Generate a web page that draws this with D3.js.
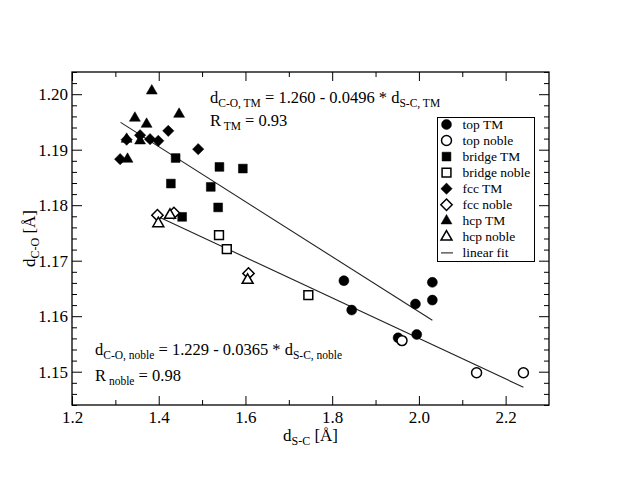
<!DOCTYPE html>
<html>
<head>
<meta charset="utf-8">
<script src="https://cdn.jsdelivr.net/npm/d3@7/dist/d3.min.js"></script>
<style>
html,body{margin:0;padding:0;background:#fff;}
svg text{font-family:"Liberation Serif","Times New Roman",serif;fill:#000;}
</style>
</head>
<body>
<svg id="chart" width="635" height="491"></svg>
<script>
// ---- data ----
const topTM = [[1.827,1.1664],[1.845,1.1611],[2.031,1.1661],[2.031,1.1629],[1.992,1.1622],[1.995,1.1567],[1.952,1.1561]];
const topNoble = [[1.961,1.1556],[2.133,1.1498],[2.241,1.1498]];
const bridgeTM = [[1.439,1.1885],[1.540,1.1869],[1.594,1.1866],[1.428,1.1839],[1.520,1.1833],[1.537,1.1796],[1.454,1.1779]];
const bridgeNoble = [[1.539,1.1746],[1.557,1.1721],[1.745,1.1638]];
const fccTM = [[1.422,1.1934],[1.380,1.1919],[1.399,1.1916],[1.357,1.1926],[1.326,1.1918],[1.311,1.1883],[1.491,1.1901]];
const fccNoble = [[1.397,1.1782],[1.435,1.1786],[1.607,1.1677]];
const hcpTM = [[1.384,1.2006],[1.345,1.1957],[1.372,1.1946],[1.447,1.1964],[1.326,1.1919],[1.357,1.1916],[1.328,1.1883]];
const hcpNoble = [[1.399,1.1767],[1.426,1.1782],[1.605,1.1665]];

// linear fits: [intercept, slope, xStart, xEnd]
const fitTM = [1.260, -0.0496, 1.312, 2.031];
const fitNoble = [1.229, -0.0365, 1.403, 2.241];

const xTickValues = [1.2, 1.4, 1.6, 1.8, 2.0, 2.2];
const xTickLabels = ["1.2", "1.4", "1.6", "1.8", "2.0", "2.2"];
const yTickValues = [1.15, 1.16, 1.17, 1.18, 1.19, 1.20];
const yTickLabels = ["1.15", "1.16", "1.17", "1.18", "1.19", "1.20"];
const legendLabels = ["top TM","top noble","bridge TM","bridge noble","fcc TM","fcc noble","hcp TM","hcp noble","linear fit"];

// ---- layout ----
const L = 72, R = 549, T = 72, B = 405;
const svg = d3.select("#chart");
const x = d3.scaleLinear().domain([1.2, 2.3]).range([L, R]);
const y = d3.scaleLinear().domain([1.144, 1.204]).range([B, T]);

const xMinor = d3.range(13, 23).map(v => v / 10).filter(v => !xTickValues.some(m => Math.abs(m - v) < 1e-9));
const yMinor = d3.range(572, 603).map(v => v / 500).filter(v => !yTickValues.some(m => Math.abs(m - v) < 1e-9));

function styleAxis(g) {
  g.select(".domain").remove();
  g.selectAll("line").attr("stroke", "#000").attr("stroke-width", 1);
  g.selectAll("text").style("font-size", "17px").attr("fill", "#000");
}

// bottom
svg.append("g").attr("transform", `translate(0,${B})`)
  .call(d3.axisBottom(x).tickValues(xTickValues).tickSize(-9).tickPadding(6)
    .tickFormat((d, i) => xTickLabels[i])).call(styleAxis);
svg.append("g").attr("transform", `translate(0,${B})`)
  .call(d3.axisBottom(x).tickValues(xMinor).tickSize(-5).tickFormat("")).call(styleAxis);
// top
svg.append("g").attr("transform", `translate(0,${T})`)
  .call(d3.axisTop(x).tickValues(xTickValues).tickSize(-9).tickFormat("")).call(styleAxis);
svg.append("g").attr("transform", `translate(0,${T})`)
  .call(d3.axisTop(x).tickValues(xMinor).tickSize(-5).tickFormat("")).call(styleAxis);
// left
svg.append("g").attr("transform", `translate(${L},0)`)
  .call(d3.axisLeft(y).tickValues(yTickValues).tickSize(-10).tickPadding(4)
    .tickFormat((d, i) => yTickLabels[i])).call(styleAxis);
svg.append("g").attr("transform", `translate(${L},0)`)
  .call(d3.axisLeft(y).tickValues(yMinor).tickSize(-5).tickFormat("")).call(styleAxis);
// right
svg.append("g").attr("transform", `translate(${R},0)`)
  .call(d3.axisRight(y).tickValues(yTickValues).tickSize(-10).tickFormat("")).call(styleAxis);
svg.append("g").attr("transform", `translate(${R},0)`)
  .call(d3.axisRight(y).tickValues(yMinor).tickSize(-5).tickFormat("")).call(styleAxis);

svg.selectAll("g").attr("font-family", null);

// frame
svg.append("rect").attr("x", L).attr("y", T).attr("width", R - L).attr("height", B - T)
  .attr("fill", "none").attr("stroke", "#000").attr("stroke-width", 1.3);

// fit lines
const line = d3.line().x(d => x(d[0])).y(d => y(d[1]));
[fitTM, fitNoble].forEach(f => {
  const pts = [[f[2], f[0] + f[1] * f[2]], [f[3], f[0] + f[1] * f[3]]];
  svg.append("path").attr("d", line(pts)).attr("fill", "none").attr("stroke", "#222").attr("stroke-width", 1.1);
});

// symbols
const diamondSym = { draw(ctx, size) { const r = Math.sqrt(size / 2); ctx.moveTo(0, -r); ctx.lineTo(r, 0); ctx.lineTo(0, r); ctx.lineTo(-r, 0); ctx.closePath(); } };
const shapes = {
  circle: d3.symbol().type(d3.symbolCircle).size(78),
  square: d3.symbol().type(d3.symbolSquare).size(78),
  diamond: d3.symbol().type(diamondSym).size(64),
  triangle: d3.symbol().type(d3.symbolTriangle).size(52)
};
const series = [
  { data: topTM, shape: "circle", filled: true },
  { data: topNoble, shape: "circle", filled: false },
  { data: bridgeTM, shape: "square", filled: true },
  { data: bridgeNoble, shape: "square", filled: false },
  { data: fccTM, shape: "diamond", filled: true },
  { data: fccNoble, shape: "diamond", filled: false },
  { data: hcpTM, shape: "triangle", filled: true },
  { data: hcpNoble, shape: "triangle", filled: false }
];
function styleMark(sel, s) {
  sel.attr("d", shapes[s.shape]())
    .attr("fill", s.filled ? "#000" : "#fff")
    .attr("stroke", "#000").attr("stroke-width", s.filled ? 0.5 : 1.5);
}
series.forEach(s => {
  svg.append("g").selectAll("path").data(s.data).join("path")
    .attr("transform", d => `translate(${x(d[0])},${y(d[1])})`)
    .call(sel => styleMark(sel, s));
});

// legend
const lg = svg.append("g");
lg.append("rect").attr("x", 437.5).attr("y", 117.5).attr("width", 97).attr("height", 144)
  .attr("fill", "#fff").attr("stroke", "#000").attr("stroke-width", 1);
legendLabels.forEach((lab, i) => {
  const cy = 124.5 + i * 16.05;
  if (i < series.length) {
    lg.append("path").attr("transform", `translate(446.5,${cy})`).call(sel => styleMark(sel, series[i]));
  } else {
    lg.append("line").attr("x1", 441).attr("x2", 453).attr("y1", cy).attr("y2", cy)
      .attr("stroke", "#222").attr("stroke-width", 1.1);
  }
  lg.append("text").attr("x", 462.5).attr("y", cy + 4.5).style("font-size", "13.5px").text(lab);
});

// rich text helper: parts = [[text, isSub], ...]
function rich(g, px, py, parts, big, small) {
  const t = g.append("text").attr("x", px).attr("y", py).style("font-size", big + "px");
  let sub = false;
  parts.forEach(([txt, isSub]) => {
    const ts = t.append("tspan").text(txt).attr("xml:space", "preserve").style("white-space", "pre");
    if (isSub) { ts.style("font-size", small + "px"); if (!sub) ts.attr("dy", 4); }
    else if (sub) ts.attr("dy", -4);
    sub = isSub;
  });
  return t;
}
rich(svg, 210, 103, [["d", false], ["C-O, TM", true], [" = 1.260 - 0.0496 * d", false], ["S-C, TM", true]], 16.5, 11.5);
rich(svg, 210, 126, [["R", false], [" TM", true], [" = 0.93", false]], 16.5, 11.5);
rich(svg, 95, 355, [["d", false], ["C-O, noble", true], [" = 1.229 - 0.0365 * d", false], ["S-C, noble", true]], 16.5, 11.5);
rich(svg, 95, 381, [["R", false], [" noble", true], [" = 0.98", false]], 16.5, 11.5);

// axis titles
const xt = rich(svg, 0, 441, [["d", false], ["S-C", true], [" [Å]", false]], 17, 12);
const xw = xt.node().getComputedTextLength();
xt.attr("x", (L + R) / 2 - xw / 2);
const yt = rich(svg, 0, 0, [["d", false], ["C-O", true], [" [Å]", false]], 17, 12);
const yw = yt.node().getComputedTextLength();
yt.attr("transform", `translate(35,${(T + B) / 2 + yw / 2}) rotate(-90)`);
</script>
</body>
</html>
